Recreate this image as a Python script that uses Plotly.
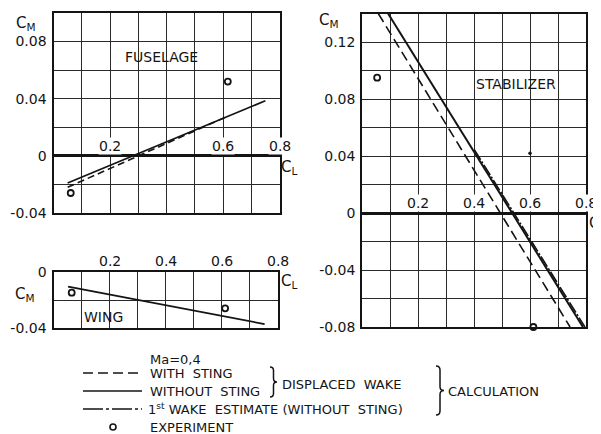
import plotly.graph_objects as go

# page body has an 8px margin: figure is sized to end exactly at the window edge
OFF = 8
W, H = 601 - OFF, 434 - OFF

# ---------------- data ----------------
# Fuselage
fus_solid_cl = [0.05, 0.75]
fus_solid_cm = [-0.019, 0.0386]
fus_dash_cl = [0.05, 0.62]
fus_dash_cm = [-0.022, 0.028]
fus_exp_cl = [0.061, 0.617]
fus_exp_cm = [-0.026, 0.052]

# Wing
wing_solid_cl = [0.052, 0.754]
wing_solid_cm = [-0.0106, -0.037]
wing_exp_cl = [0.065, 0.613]
wing_exp_cm = [-0.0148, -0.0259]

# Stabilizer
stab_solid_cl = [0.092, 0.788]
stab_solid_cm = [0.14, -0.08]
stab_dash_cl = [0.057, 0.742]
stab_dash_cm = [0.14, -0.08]
stab_dashdot_cl = [0.40, 0.795]
stab_dashdot_cm = [0.0445, -0.08]
stab_exp_cl = [0.053, 0.611]
stab_exp_cm = [0.095, -0.08]
stab_dot_cl = [0.599]
stab_dot_cm = [0.042]

# tick labels
x_tick_vals = [0.2, 0.4, 0.6, 0.8]
x_tick_text = ["0.2", "0.4", "0.6", "0.8"]
fus_x_ticks = [0.2, 0.6, 0.8]
fus_y_vals = [-0.04, -0.02, 0.0, 0.02, 0.04, 0.06, 0.08, 0.10]
fus_y_text = ["-0.04", "", "0", "", "0.04", "", "0.08", ""]
wing_y_vals = [-0.04, -0.02, 0.0]
wing_y_text = ["-0.04", "", "0"]
stab_y_vals = [-0.08, -0.06, -0.04, -0.02, 0.0, 0.02, 0.04, 0.06, 0.08, 0.10, 0.12, 0.14]
stab_y_text = ["-0.08", "", "-0.04", "", "0", "", "0.04", "", "0.08", "", "0.12", ""]
grid_x_vals = [0.0, 0.1, 0.2, 0.3, 0.4, 0.5, 0.6, 0.7, 0.8]

FONT = "DejaVu Sans"
INK = "#141414"

def px(x):
    return (x - OFF) / W

def py(y):
    return 1 - (y - OFF) / H

fig = go.Figure()

def line(xs, ys, dash, xa, ya, width=1.8):
    fig.add_trace(go.Scatter(x=xs, y=ys, mode="lines", xaxis=xa, yaxis=ya,
                             line=dict(color=INK, width=width, dash=dash),
                             showlegend=False, hoverinfo="skip"))

def exp(xs, ys, xa, ya):
    fig.add_trace(go.Scatter(x=xs, y=ys, mode="markers", xaxis=xa, yaxis=ya,
                             marker=dict(symbol="circle-open", size=6, color=INK,
                                         line=dict(width=1.8, color=INK)),
                             showlegend=False, hoverinfo="skip", cliponaxis=False))

# fuselage
line(fus_dash_cl, fus_dash_cm, "7px,4px", "x", "y", 1.6)
line(fus_solid_cl, fus_solid_cm, "solid", "x", "y")
exp(fus_exp_cl, fus_exp_cm, "x", "y")
# wing
line(wing_solid_cl, wing_solid_cm, "solid", "x2", "y2")
exp(wing_exp_cl, wing_exp_cm, "x2", "y2")
# stabilizer
line(stab_dash_cl, stab_dash_cm, "10px,5px", "x3", "y3", 1.6)
line(stab_dashdot_cl, stab_dashdot_cm, "12px,2px,2px,2px", "x3", "y3", 1.6)
line(stab_solid_cl, stab_solid_cm, "solid", "x3", "y3", 2.0)
exp(stab_exp_cl, stab_exp_cm, "x3", "y3")
fig.add_trace(go.Scatter(x=stab_dot_cl, y=stab_dot_cm, mode="markers", xaxis="x3", yaxis="y3",
                         marker=dict(size=3.5, color=INK), showlegend=False, hoverinfo="skip"))

def xax(dom):
    return dict(domain=dom, range=[0, 0.8], tickvals=grid_x_vals, showticklabels=False,
                showgrid=True, gridcolor="#2a2a2a", gridwidth=1, zeroline=False,
                showline=True, mirror=True, linecolor=INK, linewidth=2.2, ticks="",
                fixedrange=True, automargin=False)

def yax(dom, rng, vals, text, anchor):
    return dict(domain=dom, range=rng, tickvals=vals, ticktext=text, anchor=anchor,
                showgrid=True, gridcolor="#2a2a2a", gridwidth=1, zeroline=True,
                zerolinecolor=INK, zerolinewidth=2.6, showline=True, mirror=True,
                linecolor=INK, linewidth=2.2, ticks="", ticklabelstandoff=2,
                tickfont=dict(family=FONT, size=14, color=INK), fixedrange=True,
                automargin=False)

fig.update_layout(
    width=W, height=H, autosize=False, margin=dict(l=0, r=0, t=0, b=0, pad=0, autoexpand=False),
    paper_bgcolor="white", plot_bgcolor="white",
    xaxis=dict(xax([px(53.5), px(279.5)]), anchor="y"),
    yaxis=yax([py(213), py(13)], [-0.04, 0.10], fus_y_vals, fus_y_text, "x"),
    xaxis2=dict(xax([px(53.5), px(277.5)]), anchor="y2"),
    yaxis2=yax([py(328.3), py(271.7)], [-0.04, 0.0], wing_y_vals, wing_y_text, "x2"),
    xaxis3=dict(xax([px(362.3), px(586.3)]), anchor="y3"),
    yaxis3=yax([py(327), py(13.5)], [-0.08, 0.14], stab_y_vals, stab_y_text, "x3"),
)
fig.update_layout(yaxis2=dict(zeroline=False))

ann = []
def t(x, y, s, xref="paper", yref="paper", xa="center", ya="middle", size=13, **kw):
    ann.append(dict(x=x, y=y, text=s, xref=xref, yref=yref, xanchor=xa, yanchor=ya,
                    showarrow=False, font=dict(family=FONT, size=size, color=INK), **kw))

# x tick labels placed on the zero lines
for v in fus_x_ticks:
    t(v, 0, x_tick_text[x_tick_vals.index(v)], "x", "y", ya="bottom", yshift=1,
      bgcolor="white", borderpad=0, size=14)
for v, s in zip(x_tick_vals, x_tick_text):
    t(v, 0, s, "x2", "y2", ya="bottom", yshift=2, bgcolor="white", borderpad=0, size=14)
    t(v, 0, s, "x3", "y3", ya="bottom", yshift=1, bgcolor="white", borderpad=0, size=14)

# axis symbols
t(px(14), py(12), "C<sub>M</sub>", xa="left", ya="top", size=15)
t(px(317), py(9), "C<sub>M</sub>", xa="left", ya="top", size=15)
t(px(13), py(283), "C<sub>M</sub>", xa="left", ya="top", size=15)
t(px(279), py(156), "C<sub>L</sub>", xa="left", ya="top", size=15)
t(px(279), py(270), "C<sub>L</sub>", xa="left", ya="top", size=15)
t(px(587), py(212), "C<sub>L</sub>", xa="left", ya="top", size=15)

# panel titles
t(0.384, 0.0695, "FUSELAGE", "x", "y", size=14)
t(0.55, 0.0905, "STABILIZER", "x3", "y3", size=14)
t(0.179, -0.0317, "WING", "x2", "y2", size=14)

# legend texts
t(px(148), py(359), "Ma=0,4", xa="left")
t(px(148), py(373), "WITH  STING", xa="left")
t(px(148), py(391), "WITHOUT  STING", xa="left")
t(px(146), py(409), "1<sup>st</sup> WAKE  ESTIMATE (WITHOUT  STING)", xa="left")
t(px(148), py(427), "EXPERIMENT", xa="left")
t(px(280), py(384), "DISPLACED  WAKE", xa="left")
t(px(446), py(391), "CALCULATION", xa="left")
fig.update_layout(annotations=ann)

shapes = []
def seg(x0, y0, x1, y1, dash):
    shapes.append(dict(type="line", xref="paper", yref="paper", x0=px(x0), y0=py(y0),
                       x1=px(x1), y1=py(y1), line=dict(color=INK, width=1.6, dash=dash)))
seg(83, 373, 142, 373, "10px,5px")
seg(83, 391, 142, 391, "solid")
seg(83, 409, 142, 409, "20px,3px,3px,3px")
shapes.append(dict(type="circle", xref="paper", yref="paper", x0=px(110), x1=px(116),
                   y0=py(430), y1=py(424), line=dict(color=INK, width=1.6)))

def brace(x, ytop, ybot, w):
    mid = (ytop + ybot) / 2
    h = w / 2
    pts = [("M", x, ytop), ("Q", x + h, ytop, x + h, ytop + h), ("L", x + h, mid - h),
           ("Q", x + h, mid, x + w, mid), ("Q", x + h, mid, x + h, mid + h),
           ("L", x + h, ybot - h), ("Q", x + h, ybot, x, ybot)]
    s = ""
    for p in pts:
        cmd = p[0]
        coords = p[1:]
        s += cmd + " " + " ".join(f"{px(coords[i]):.5f},{py(coords[i+1]):.5f}"
                                  for i in range(0, len(coords), 2)) + " "
    shapes.append(dict(type="path", xref="paper", yref="paper", path=s,
                       line=dict(color=INK, width=1.5)))

brace(270, 367, 397, 7)
brace(436, 366, 415, 8)
fig.update_layout(shapes=shapes)

fig.write_html("out.html")
